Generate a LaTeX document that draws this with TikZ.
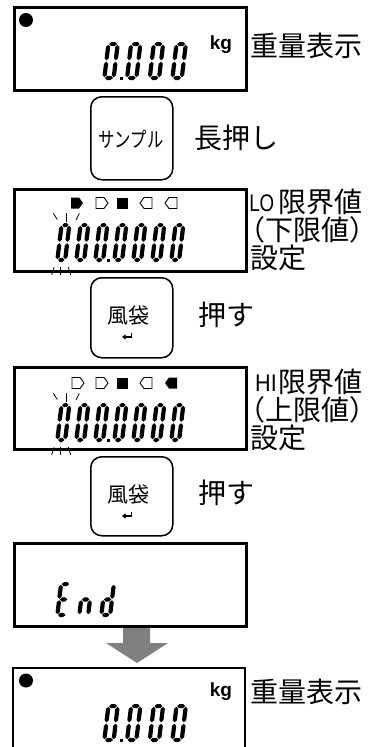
\documentclass[tikz,border=0pt]{standalone}
\usepackage{fontspec}
\usepackage{graphicx}
\newfontfamily\jpfont{Noto Sans CJK JP}
\newfontfamily\latfont{Liberation Sans}
\usetikzlibrary{arrows.meta}
\tikzset{
  dispbox/.style={draw, line width=2.5pt, inner sep=0pt, minimum width=232pt, anchor=north west},
  keybox/.style={draw, line width=1.5pt, rounded corners=11pt, inner sep=0pt, minimum width=82pt, anchor=north west},
  sidetext/.style={anchor=west, inner sep=0pt, font=\jpfont\fontsize{28}{30}\selectfont},
  lattext/.style={anchor=east, inner sep=0pt, font=\latfont\fontsize{24}{26}\selectfont},
  keytext/.style={inner sep=0pt, font=\jpfont\fontsize{21}{23}\selectfont},
  unittext/.style={inner sep=0pt, font=\latfont\bfseries\fontsize{19}{21}\selectfont},
  segfill/.style={fill=black},
  flash/.style={line width=0.8pt},
  markout/.style={draw, line width=0.9pt},
  markfill/.style={fill=black},
  bigarrow/.style={fill=black!50},
}
% seven-segment digit
\newcommand\dghs[1]{\fill[segfill] ({\dgh+\dgg},{-(#1)}) -- ({2*\dgh+\dgg},{-(#1)-\dgh}) -- ({\dgW-2*\dgh-\dgg},{-(#1)-\dgh}) -- ({\dgW-\dgh-\dgg},{-(#1)}) -- ({\dgW-2*\dgh-\dgg},{-(#1)+\dgh}) -- ({2*\dgh+\dgg},{-(#1)+\dgh}) -- cycle;}
\newcommand\dgvs[3]{\fill[segfill] ({#1},{-(#2)}) -- ({#1+\dgh},{-(#2)-\dgh}) -- ({#1+\dgh},{-(#3)+\dgh}) -- ({#1},{-(#3)}) -- ({#1-\dgh},{-(#3)+\dgh}) -- ({#1-\dgh},{-(#2)-\dgh}) -- cycle;}
\newcommand\dsega{\dghs{\dgH-\dgh}}
\newcommand\dsegg{\dghs{\dgH/2}}
\newcommand\dsegd{\dghs{\dgh}}
\newcommand\dsegf{\dgvs{\dgh}{\dgH/2+\dgg}{\dgH-\dgh-\dgg}}
\newcommand\dsegb{\dgvs{\dgW-\dgh}{\dgH/2+\dgg}{\dgH-\dgh-\dgg}}
\newcommand\dsege{\dgvs{\dgh}{\dgh+\dgg}{\dgH/2-\dgg}}
\newcommand\dsegc{\dgvs{\dgW-\dgh}{\dgh+\dgg}{\dgH/2-\dgg}}
\newcommand\segdigit[5]{%
  \begin{scope}[shift={(#1,#2)}, xslant=0.12]
    \pgfmathsetmacro\dgW{#3}\pgfmathsetmacro\dgH{#4}%
    \pgfmathsetmacro\dgh{2.1}\pgfmathsetmacro\dgg{0.7}%
    \foreach \s in {#5}{\csname dseg\s\endcsname}
  \end{scope}}
% markers
\newcommand\mright[3]{\path[#3] (#1,#2-5.5) -- (#1+8,#2-5.5) -- (#1+12,#2) -- (#1+8,#2+5.5) -- (#1,#2+5.5) -- cycle;}
\newcommand\mleft[3]{\path[#3] (#1+12,#2-5.5) -- (#1+4,#2-5.5) -- (#1,#2) -- (#1+4,#2+5.5) -- (#1+12,#2+5.5) -- cycle;}
\newcommand\msq[3]{\path[#3] (#1,#2-5.5) rectangle (#1+11,#2+5.5);}
\begin{document}
\begin{tikzpicture}[x=1pt, y=-1pt]
\useasboundingbox (0,0) rectangle (383,747);

% ---- display 1: weighing
\node[dispbox, minimum height=83pt] (d1) at (13,6) {};
\fill (26,20) circle (7);
\foreach \i in {0,1,2,3} {\segdigit{102+22.7*\i}{80}{13.5}{38}{a,b,c,d,e,f}}
\fill (120,77) rectangle (123,80);
\node[unittext] (kg1) at (221,45) {kg};
\node[sidetext] (t1) at (250,46) {重量表示};

% ---- key 1
\node[keybox, minimum height=83pt] (k1) at (90,96) {};
\node[keytext] (k1t) at (131,139) {\scalebox{0.78}[1]{サンプル}};
\node[sidetext] (t2) at (194,138) {長押し};

% ---- display 2: LO
\node[dispbox, minimum height=82pt] (d2) at (13,188) {};
\mright{71}{203}{markfill}
\mright{96}{203}{markout}
\msq{117}{203}{markfill}
\mleft{140}{203}{markout}
\mleft{165}{203}{markout}
\foreach \i in {0,...,6} {\segdigit{55+19*\i}{262}{12}{39}{a,b,c,d,e,f}}
\fill (106.5,259) rectangle (109.5,262);
\draw[flash] (53.3,213.3) -- (57.3,219.5);
\draw[flash] (66,213) -- (66,221.5);
\draw[flash] (79.3,213.3) -- (76,220);
\draw[flash] (51.7,275) -- (54,267.3);
\draw[flash] (60.7,267) -- (60.7,275);
\draw[flash] (68.3,267) -- (70.7,275);
\node[lattext] (t3a) at (274.5,203) {\scalebox{0.78}[1]{LO}};
\node[sidetext] (t3) at (278,202) {限界値};
\node[sidetext] (t4) at (237,230) {（下限値）};
\node[sidetext] (t5) at (250,258) {設定};

% ---- key 2
\node[keybox, minimum height=80pt] (k2) at (90,277) {};
\node[keytext] (k2t) at (128,316) {風袋};
\draw[line width=1.4pt, -{Triangle[length=3.5pt,width=5pt]}] (131.5,332.5) -- (131.5,337) -- (122,337);
\node[sidetext] (t6) at (198,315) {押す};

% ---- display 3: HI
\node[dispbox, minimum height=82pt] (d3) at (13,366) {};
\mright{72}{383}{markout}
\mright{96}{383}{markout}
\msq{117}{383}{markfill}
\mleft{140}{383}{markout}
\mleft{165}{383}{markfill}
\foreach \i in {0,...,6} {\segdigit{55+19*\i}{442}{12}{39}{a,b,c,d,e,f}}
\fill (106.5,439) rectangle (109.5,442);
\draw[flash] (53.3,393.3) -- (57.3,399.5);
\draw[flash] (66,393) -- (66,401.5);
\draw[flash] (79.3,393.3) -- (76,400);
\draw[flash] (51.7,455) -- (54,447.3);
\draw[flash] (60.7,447) -- (60.7,455);
\draw[flash] (68.3,447) -- (70.7,455);
\node[lattext] (t7a) at (277,383) {\scalebox{0.9}[1]{HI}};
\node[sidetext] (t7) at (278,382) {限界値};
\node[sidetext] (t8) at (237,410) {（上限値）};
\node[sidetext] (t9) at (250,438) {設定};

% ---- key 3
\node[keybox, minimum height=79pt] (k3) at (90,456) {};
\node[keytext] (k3t) at (128,495) {風袋};
\draw[line width=1.4pt, -{Triangle[length=3.5pt,width=5pt]}] (131.5,511.5) -- (131.5,516) -- (122,516);
\node[sidetext] (t10) at (198,493) {押す};

% ---- display 4: End
\node[dispbox, minimum height=83pt] (d4) at (13,542) {};
\segdigit{55}{617}{13}{35}{a,d,e,f,g}
\segdigit{77}{617}{13}{35}{c,e,g}
\segdigit{99}{617}{13}{35}{b,c,d,e,g}

% ---- big arrow
\fill[bigarrow] (123,628) -- (150,628) -- (150,643) -- (168,643) -- (137,663) -- (106,643) -- (123,643) -- cycle;

% ---- display 5 (cut off)
\draw[line width=2.5pt] (13,750) -- (13,668) -- (245,668) -- (245,750);
\fill (26,680.5) circle (7);
\foreach \i in {0,1,2,3} {\segdigit{102+22.7*\i}{742}{13.5}{38}{a,b,c,d,e,f}}
\fill (120,739) rectangle (123,742);
\node[unittext] (kg5) at (221,692) {kg};
\node[sidetext] (t11) at (250,692) {重量表示};
\end{tikzpicture}
\end{document}
